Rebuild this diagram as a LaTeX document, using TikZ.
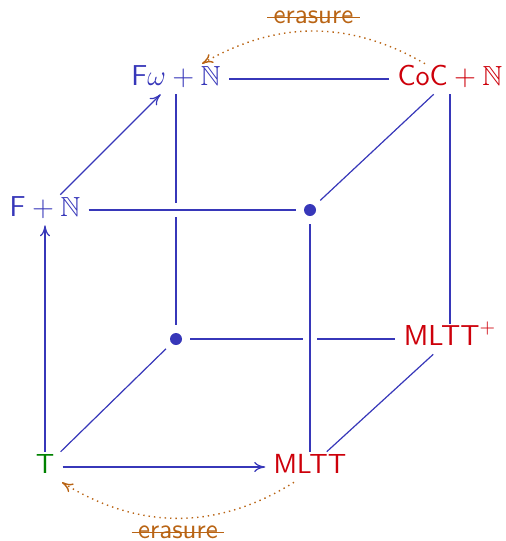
\documentclass[tikz,border=0pt]{standalone}
\usepackage{amssymb}
\usetikzlibrary{arrows.meta}
\definecolor{cubeblue}{RGB}{55,55,185}
\definecolor{cubered}{RGB}{205,0,10}
\definecolor{cubegreen}{RGB}{0,130,0}
\definecolor{erasecol}{RGB}{185,100,20}

\begin{document}
\begin{tikzpicture}[
  x=0.5pt, y=-0.5pt,
  every node/.style={font=\fontsize{13.8}{16}\selectfont\sffamily},
  sysnode/.style={inner sep=4pt, text height=0.69em, text depth=0pt},
  fsys/.style={sysnode, text=cubeblue},
  depsys/.style={sysnode, text=cubered},
  corner/.style={circle, fill=cubeblue, inner sep=0pt, minimum size=6pt, outer sep=4pt},
  edge/.style={draw=cubeblue, line width=0.6pt},
  over/.style={preaction={draw=white, line width=7pt}},
  erase/.style={draw=erasecol, dotted, line width=0.7pt, ->},
  struck/.style={text=erasecol, path picture={\draw[erasecol, solid, -, line width=0.6pt] (path picture bounding box.west) -- (path picture bounding box.east);}},
  >={Computer Modern Rightarrow[length=5.5pt, width=5pt]}
]
\useasboundingbox (0,0) rectangle (506,541);

\node[fsys] (fw) at (176,79) {$\mathsf{F}\omega+\mathbb{N}$};
\node[depsys] (coc) at (450,79) {$\mathsf{CoC}+\mathbb{N}$};
\node[fsys] (fn) at (45,210) {$\mathsf{F}+\mathbb{N}$};
\node[corner] (dtop) at (310,210) {};
\node[corner] (dbot) at (176,339) {};
\node[depsys] (mlttp) at (450,339) {$\mathsf{MLTT}^{+}$};
\node[sysnode, text=cubegreen] (t) at (45,467) {T};
\node[depsys] (mltt) at (310,467) {MLTT};

% back face
\draw[edge] (fw) -- (coc);
\draw[edge] (coc) -- (mlttp);
\draw[edge] (fw) -- (dbot);
\draw[edge] (dbot) -- (mlttp);
% front face
\draw[edge, over] (fn) -- (dtop);
\draw[edge, over] (dtop) -- (mltt);
\draw[edge, ->] (t) -- (fn);
\draw[edge, ->] (t) -- (mltt);
% depth
\draw[edge, ->] (fn) -- (fw);
\draw[edge] (coc) -- (dtop);
\draw[edge] (t) -- (dbot);
\draw[edge] (mlttp) -- (mltt);

% erasure
\draw[erase] ([shift={(-25,0)}]coc.north) to[bend right=30]
  node[midway, above, struck] (e1) {erasure} ([shift={(26,0)}]fw.north);
\draw[erase] ([shift={(-16,0)}]mltt.south) to[bend left=32]
  node[midway, below, struck] (e2) {erasure} ([shift={(17,0)}]t.south);
\end{tikzpicture}
\end{document}
